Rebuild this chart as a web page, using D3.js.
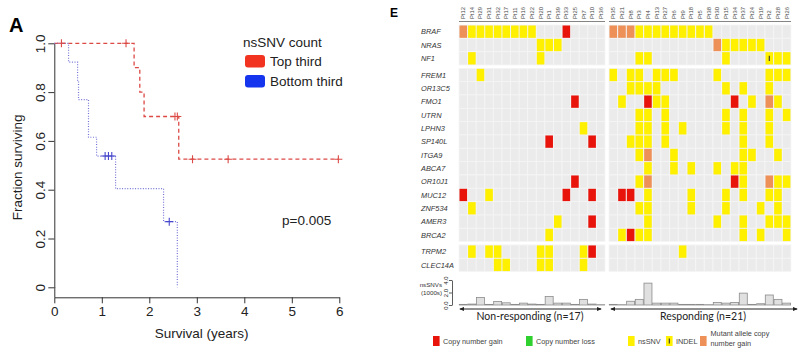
<!DOCTYPE html>
<html>
<head>
<meta charset="utf-8">
<script src="https://cdn.jsdelivr.net/npm/d3@7"></script>
<style>
  body { margin: 0; background: #fff; }
  svg { display: block; font-family: "Liberation Sans", Arial, sans-serif; }
  .axis path, .axis line { stroke: #333; }
  .axis text { fill: #222; font-family: "Liberation Sans", Arial, sans-serif; }
</style>
</head>
<body>
<svg id="fig"></svg>
<script>
// ---------- Panel A: survival by nsSNV count ----------
const topSteps = [[0, 1], [1.68, 0.9], [1.80, 0.8], [1.89, 0.7], [2.62, 0.525], [5.98, 0.525]];
const topCensor = [[0.15, 1], [1.51, 1], [2.54, 0.7], [2.59, 0.7], [2.91, 0.525], [3.66, 0.525], [5.98, 0.525]];
const bottomSteps = [[0, 1], [0.30, 0.923], [0.49, 0.846], [0.51, 0.769], [0.72, 0.615], [0.89, 0.538],
    [1.29, 0.404], [2.30, 0.269], [2.59, 0]];
const bottomCensor = [[1.07, 0.538], [1.14, 0.538], [1.21, 0.538], [2.42, 0.269]];
const yearTicks = [0, 1, 2, 3, 4, 5, 6];
const survTicks = [0, 0.2, 0.4, 0.6, 0.8, 1.0];
const legendLabels = ['Top third', 'Bottom third'];

// ---------- Panel E: mutation matrix ----------
const nonResponders = ['Pt12', 'Pt14', 'Pt29', 'Pt31', 'Pt32', 'Pt17', 'Pt11', 'Pt16', 'Pt22', 'Pt20', 'Pt1',
    'Pt39', 'Pt33', 'Pt25', 'Pt7', 'Pt10', 'Pt36'];
const responders = ['Pt35', 'Pt21', 'Pt8', 'Pt3', 'Pt4', 'Pt13', 'Pt27', 'Pt6', 'Pt9', 'Pt18', 'Pt5', 'Pt38',
    'Pt30', 'Pt15', 'Pt34', 'Pt37', 'Pt24', 'Pt19', 'Pt2', 'Pt28', 'Pt26'];
const geneGroups = [
    ['BRAF', 'NRAS', 'NF1'],
    ['FREM1', 'OR13C5', 'FMO1', 'UTRN', 'LPHN3', 'SP140L', 'ITGA9', 'ABCA7', 'OR10J1', 'MUC12', 'ZNF534', 'AMER3', 'BRCA2'],
    ['TRPM2', 'CLEC14A']
];
// one string per gene, non-responders | responders
// Y = nsSNV, R = copy number gain, O = mutant allele copy number gain, I = INDEL, . = none
const calls = [
    'OYYYYYYYY...R....|OOOYYYYYYYYY.........',
    '.........YYY.....|............OYYYYY...',
    '.Y.......Y.......|...YY........Y....IYY',
    '..Y..............|Y.YY.YYY....Y.....YYY',
    '.................|..YYYY.......Y.Y..Y..',
    '.............R...|.Y..RYY.......R.Y.OY.',
    '.................|...YY.Y......Y.Y..Y.Y',
    '..............Y..|...YY.Y.Y....Y.Y..Y..',
    '..........R....R.|..YYY.Y........Y..Y..',
    '.................|...YO..Y.......YY..Y.',
    '.................|....Y..Y.Y..Y.YY.....',
    '.............R...|...YO.........RY..OYY',
    'R..Y........R..R.|.RR.Y....Y...Y.Y..YY.',
    '.Y...............|...YY....Y...Y...Y.Y.',
    '...........Y...R.|....Y.......Y..Y..YYY',
    '..........Y......|.YRYY..........Y.Y..Y',
    '.Y.YY....YY...YR.|........Y............',
    '....YY...YY...Y..|.....................'
];
const snvNonResp = [0.1, 0.15, 1.2, 0.1, 0.55, 0.35, 0.1, 0.3, 0.15, 0.1, 1.35, 0.3, 0.3, 0.1, 0.9, 0.15, 0.05];
const snvResp = [0.1, 0.05, 0.6, 0.9, 3.5, 0.3, 0.3, 0.3, 0.1, 0.1, 0.1, 0.05, 0.4, 0.3, 0.4, 1.9, 0.1, 0.2,
    1.6, 0.9, 0.3];
const snvTicks = [0, 2, 4];
const keyItems = [
    ['R', 'Copy number gain'], ['L', 'Copy number loss'], ['Y', 'nsSNV'], ['I', 'INDEL'],
    ['O', 'Mutant allele copy', 'number gain']
];

const colours = { Y: '#fff000', I: '#fff000', R: '#e8140c', O: '#ee9158', L: '#2fd12f' };

const svg = d3.select('#fig').attr('width', 800).attr('height', 351);

// ================= Panel A =================
const xYears = d3.scaleLinear().domain([0, 6]).range([54.3, 339.3]);
const ySurv = d3.scaleLinear().domain([0, 1]).range([287.3, 43.3]);
const km = svg.append('g');

const xAxisG = km.append('g')
    .attr('class', 'axis')
    .attr('transform', 'translate(0,297.3)')
    .call(d3.axisBottom(xYears).tickValues(yearTicks).tickSize(6).tickPadding(3).tickSizeOuter(0)
        .tickFormat(d3.format('d')));
xAxisG.selectAll('text').style('font-size', '13.5px');

const yAxisG = km.append('g')
    .attr('class', 'axis')
    .attr('transform', 'translate(54.3,0)')
    .call(d3.axisLeft(ySurv).tickValues(survTicks).tickSize(6).tickSizeOuter(0)
        .tickFormat(d => d === 0 ? '0' : d.toFixed(1)));
yAxisG.selectAll('.tick text')
    .attr('x', 0)
    .attr('dy', 0)
    .attr('text-anchor', 'middle')
    .attr('transform', 'translate(-9,0) rotate(-90)')
    .style('font-size', '13.5px');

// join y axis down to x axis
km.append('line')
    .attr('x1', 54.8).attr('x2', 54.8)
    .attr('y1', ySurv(0)).attr('y2', 297.3)
    .attr('stroke', '#333');

km.append('text')
    .attr('transform', `translate(22,${ySurv(0.5) + 2}) rotate(-90)`)
    .attr('text-anchor', 'middle')
    .style('font-size', '13.5px')
    .attr('fill', '#222')
    .text('Fraction surviving');

km.append('text')
    .attr('x', xYears(3.1))
    .attr('y', 338)
    .attr('text-anchor', 'middle')
    .style('font-size', '13.5px')
    .attr('fill', '#222')
    .text('Survival (years)');

const stepLine = d3.line()
    .x(d => xYears(d[0]))
    .y(d => ySurv(d[1]))
    .curve(d3.curveStepAfter);

km.append('path')
    .datum(topSteps)
    .attr('d', stepLine)
    .attr('fill', 'none')
    .attr('stroke', '#dc4a46')
    .attr('stroke-width', 1.3)
    .attr('stroke-dasharray', '4,3');

km.append('path')
    .datum(bottomSteps)
    .attr('d', stepLine)
    .attr('fill', 'none')
    .attr('stroke', '#7474d8')
    .attr('stroke-width', 1.2)
    .attr('stroke-dasharray', '1,1.6');

const cross = 'M-4,0H4M0,-4V4';
km.selectAll('.censor-top')
    .data(topCensor)
    .join('path')
    .attr('class', 'censor-top')
    .attr('transform', d => `translate(${xYears(d[0])},${ySurv(d[1])})`)
    .attr('d', cross)
    .attr('stroke', '#dc4a46')
    .attr('stroke-width', 1.1);

km.selectAll('.censor-bottom')
    .data(bottomCensor)
    .join('path')
    .attr('class', 'censor-bottom')
    .attr('transform', d => `translate(${xYears(d[0])},${ySurv(d[1])})`)
    .attr('d', cross)
    .attr('stroke', '#4848cc')
    .attr('stroke-width', 1.1);

// Legend
const kmLegend = km.append('g').attr('transform', 'translate(243,0)');
kmLegend.append('text')
    .attr('x', 0).attr('y', 47)
    .style('font-size', '13.5px')
    .attr('fill', '#222')
    .text('nsSNV count');
kmLegend.selectAll('rect')
    .data(legendLabels)
    .join('rect')
    .attr('x', 2)
    .attr('y', (d, i) => 55 + i * 20)
    .attr('width', 20)
    .attr('height', 12.5)
    .attr('rx', 3)
    .attr('fill', (d, i) => i === 0 ? '#f2331f' : '#1434ee');
kmLegend.selectAll('.lab')
    .data(legendLabels)
    .join('text')
    .attr('class', 'lab')
    .attr('x', 27)
    .attr('y', (d, i) => 66 + i * 20)
    .style('font-size', '13.5px')
    .attr('fill', '#222')
    .text(d => d);

km.append('text')
    .attr('x', 282).attr('y', 225)
    .style('font-size', '13.5px')
    .attr('fill', '#222')
    .text('p=0.005');

svg.append('text')
    .attr('x', 9).attr('y', 32)
    .style('font-size', '20px')
    .style('font-weight', 'bold')
    .text('A');

// ================= Panel E =================
const hm = svg.append('g');
const patients = nonResponders.concat(responders);
const xNon = d3.scaleBand().domain(nonResponders).range([459, 605]);
const xResp = d3.scaleBand().domain(responders).range([609, 791]);
const colX = p => nonResponders.includes(p) ? xNon(p) : xResp(p);
const colW = xNon.bandwidth();

const genes = geneGroups.flat();
const rowH = 13.33;
const yGene = d3.scaleBand().domain(genes).range([25, 25 + genes.length * rowH]);
const rowY = g => yGene(g) + geneGroups.findIndex(grp => grp.includes(g)) * 3.33;

const cells = [];
calls.forEach((s, gi) => {
    s.replace('|', '').split('').forEach((c, k) => {
        cells.push({ gene: genes[gi], patient: patients[k], code: c });
    });
});

hm.selectAll('.bg')
    .data(cells)
    .join('rect')
    .attr('class', 'bg')
    .attr('x', d => colX(d.patient))
    .attr('y', d => rowY(d.gene))
    .attr('width', colW)
    .attr('height', rowH)
    .attr('fill', '#ebebeb')
    .attr('stroke', '#f5f5f5')
    .attr('stroke-width', 0.8);

hm.selectAll('.hit')
    .data(cells.filter(d => d.code !== '.'))
    .join('rect')
    .attr('class', 'hit')
    .attr('x', d => colX(d.patient) + 0.5)
    .attr('y', d => rowY(d.gene) + 0.5)
    .attr('width', colW - 1)
    .attr('height', rowH - 1)
    .attr('fill', d => colours[d.code]);

hm.selectAll('.indel')
    .data(cells.filter(d => d.code === 'I'))
    .join('line')
    .attr('class', 'indel')
    .attr('x1', d => colX(d.patient) + colW / 2)
    .attr('x2', d => colX(d.patient) + colW / 2)
    .attr('y1', d => rowY(d.gene) + 4)
    .attr('y2', d => rowY(d.gene) + rowH - 4)
    .attr('stroke', '#333')
    .attr('stroke-width', 1.1);

// gene labels
hm.selectAll('.gene')
    .data(genes)
    .join('text')
    .attr('class', 'gene')
    .attr('x', 421)
    .attr('y', d => rowY(d) + rowH / 2 + 2.6)
    .style('font-size', '7.4px')
    .style('font-style', 'italic')
    .attr('fill', '#333')
    .text(d => d);

// patient labels
hm.selectAll('.pt')
    .data(patients)
    .join('text')
    .attr('class', 'pt')
    .attr('transform', d => `translate(${colX(d) + colW / 2 + 2},19) rotate(-90)`)
    .style('font-size', '5.8px')
    .attr('fill', '#444')
    .text(d => d);

[[459, 605], [609, 791]].forEach(r => {
    hm.append('line')
        .attr('x1', r[0]).attr('x2', r[1])
        .attr('y1', 21.5).attr('y2', 21.5)
        .attr('stroke', '#666')
        .attr('stroke-width', 0.8);
});

svg.append('text')
    .attr('x', 390).attr('y', 17)
    .style('font-size', '12px')
    .style('font-weight', 'bold')
    .text('E');

// nsSNV histogram
const ySnv = d3.scaleLinear().domain([0, 4]).range([305, 280]);
const snv = patients.map((p, k) => ({ patient: p, value: k < 17 ? snvNonResp[k] : snvResp[k - 17] }));

hm.selectAll('.bar')
    .data(snv)
    .join('rect')
    .attr('class', 'bar')
    .attr('x', d => colX(d.patient) + 0.3)
    .attr('y', d => ySnv(d.value))
    .attr('width', colW - 0.6)
    .attr('height', d => ySnv(0) - ySnv(d.value))
    .attr('fill', '#e0e0e0')
    .attr('stroke', '#8c8c8c')
    .attr('stroke-width', 0.8);

const snvAxisG = hm.append('g')
    .attr('class', 'axis')
    .attr('transform', 'translate(452,0)')
    .call(d3.axisLeft(ySnv).tickValues(snvTicks).tickSize(3).tickSizeOuter(0));
snvAxisG.selectAll('path, line').attr('stroke-width', 0.8);
snvAxisG.selectAll('.tick text')
    .attr('x', 0)
    .attr('dy', 0)
    .attr('text-anchor', 'middle')
    .attr('transform', 'translate(-4,0) rotate(-90)')
    .style('font-size', '6px');

hm.selectAll('.snvlab')
    .data(['nsSNVs', '(1000s)'])
    .join('text')
    .attr('class', 'snvlab')
    .attr('x', 442)
    .attr('y', (d, i) => 287 + i * 8)
    .attr('text-anchor', 'end')
    .style('font-size', '6.2px')
    .attr('fill', '#333')
    .text(d => d);

// response group arrows
const defs = svg.append('defs');
defs.append('marker')
    .attr('id', 'arr')
    .attr('viewBox', '0 0 6 6')
    .attr('refX', 5).attr('refY', 3)
    .attr('markerWidth', 5).attr('markerHeight', 5)
    .attr('orient', 'auto-start-reverse')
    .append('path')
    .attr('d', 'M0,0.5L6,3L0,5.5Z')
    .attr('fill', '#222');

const groups = [
    { x0: 460, x1: 601, label: 'Non-responding (n=' + nonResponders.length + ')' },
    { x0: 611, x1: 797, label: 'Responding (n=' + responders.length + ')' }
];
hm.selectAll('.grp')
    .data(groups)
    .join('line')
    .attr('class', 'grp')
    .attr('x1', d => d.x0).attr('x2', d => d.x1)
    .attr('y1', 309).attr('y2', 309)
    .attr('stroke', '#222')
    .attr('stroke-width', 1)
    .attr('marker-start', 'url(#arr)')
    .attr('marker-end', 'url(#arr)');
hm.selectAll('.grplab')
    .data(groups)
    .join('text')
    .attr('class', 'grplab')
    .attr('x', (d, i) => i === 0 ? 530 : 703)
    .attr('y', 319.5)
    .attr('text-anchor', 'middle')
    .style('font-family', 'Lato, "Open Sans", sans-serif')
    .style('font-size', '10.5px')
    .attr('fill', '#222')
    .text(d => d.label);

// key
const keyX = [433, 526, 628, 666, 700];
const key = hm.selectAll('.key')
    .data(keyItems)
    .join('g')
    .attr('class', 'key')
    .attr('transform', (d, i) => `translate(${keyX[i]},336)`);
key.append('rect')
    .attr('width', 6.6)
    .attr('height', 10)
    .attr('fill', d => colours[d[0]]);
key.filter(d => d[0] === 'I')
    .append('line')
    .attr('x1', 3.3).attr('x2', 3.3)
    .attr('y1', 2.5).attr('y2', 7.5)
    .attr('stroke', '#333')
    .attr('stroke-width', 1.1);
key.append('text')
    .attr('x', d => d.length > 2 ? 10.5 : 10)
    .attr('y', d => d.length > 2 ? -0.5 : 7.8)
    .style('font-size', '7.3px')
    .attr('fill', '#444')
    .text(d => d[1]);
key.filter(d => d.length > 2)
    .append('text')
    .attr('x', 10.5)
    .attr('y', 10.3)
    .style('font-size', '7.3px')
    .attr('fill', '#444')
    .text(d => d[2]);
</script>
</body>
</html>
